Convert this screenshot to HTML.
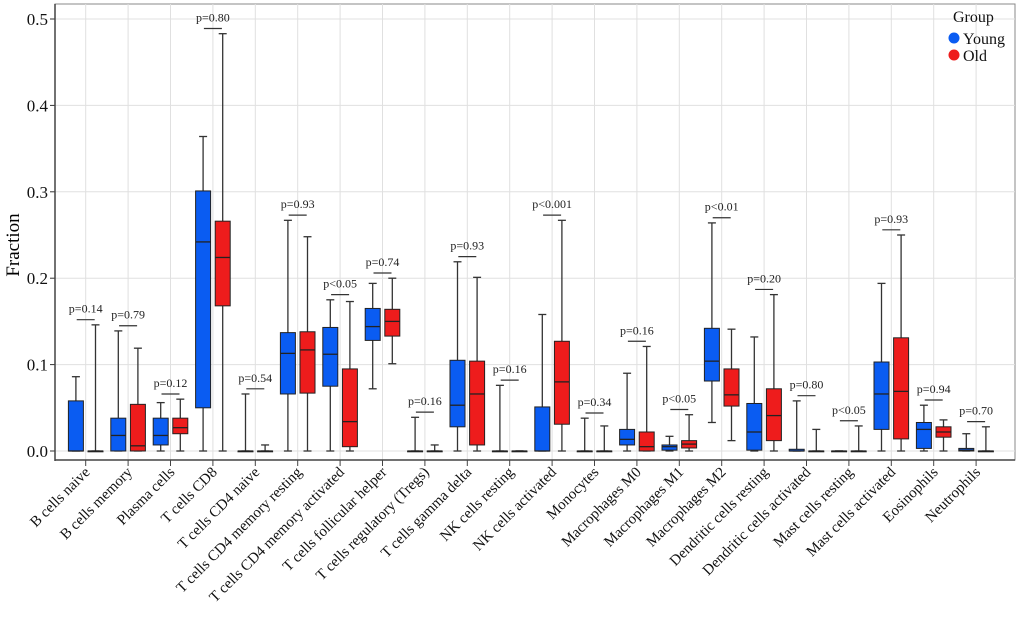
<!DOCTYPE html>
<html><head><meta charset="utf-8"><style>
html,body{margin:0;padding:0;background:#fff;}
svg, svg text{font-family:"Liberation Serif","DejaVu Serif",serif !important;}
</style></head><body>
<svg id="chart" width="1020" height="615" font-family="'Liberation Serif', 'DejaVu Serif', serif"></svg>
<script>
const categories=["B cells naive","B cells memory","Plasma cells","T cells CD8","T cells CD4 naive","T cells CD4 memory resting","T cells CD4 memory activated","T cells follicular helper","T cells regulatory (Tregs)","T cells gamma delta","NK cells resting","NK cells activated","Monocytes","Macrophages M0","Macrophages M1","Macrophages M2","Dendritic cells resting","Dendritic cells activated","Mast cells resting","Mast cells activated","Eosinophils","Neutrophils"];
// [low, q1, median, q3, high]
const young=[[0,0,0,0.058,0.086],[0,0,0.018,0.038,0.139],[0,0.007,0.018,0.038,0.056],[0,0.050,0.242,0.301,0.364],[0,0,0,0,0.066],[0,0.066,0.113,0.137,0.267],[0,0.075,0.112,0.143,0.175],[0.072,0.128,0.144,0.165,0.194],[0,0,0,0,0.039],[0,0.028,0.053,0.105,0.219],[0,0,0,0,0.076],[0,0,0,0.051,0.158],[0,0,0,0,0.038],[0,0.007,0.0135,0.025,0.090],[0,0.001,0.005,0.007,0.017],[0.033,0.081,0.104,0.142,0.264],[0,0.001,0.022,0.055,0.132],[0,0,0,0.002,0.058],[0,0,0,0,0],[0,0.025,0.066,0.103,0.194],[0,0.003,0.025,0.033,0.053],[0,0,0.001,0.003,0.020]];
const old=[[0,0,0,0,0.146],[0,0,0.006,0.054,0.119],[0,0.020,0.027,0.038,0.060],[0,0.168,0.224,0.266,0.483],[0,0,0,0,0.007],[0,0.067,0.117,0.138,0.248],[0,0.005,0.034,0.095,0.173],[0.101,0.133,0.150,0.164,0.200],[0,0,0,0,0.007],[0,0.007,0.066,0.104,0.201],[0,0,0,0,0],[0,0.031,0.080,0.127,0.267],[0,0,0,0,0.029],[0,0,0.005,0.022,0.121],[0,0.0035,0.008,0.012,0.042],[0.012,0.052,0.065,0.095,0.141],[0,0.012,0.041,0.072,0.181],[0,0,0,0,0.025],[0,0,0,0,0.029],[0,0.014,0.069,0.131,0.250],[0,0.016,0.022,0.028,0.036],[0,0,0,0,0.028]];
const pLabels=["p=0.14","p=0.79","p=0.12","p=0.80","p=0.54","p=0.93","p<0.05","p=0.74","p=0.16","p=0.93","p=0.16","p<0.001","p=0.34","p=0.16","p<0.05","p<0.01","p=0.20","p=0.80","p<0.05","p=0.93","p=0.94","p=0.70"];
const yTicks=[0,0.1,0.2,0.3,0.4,0.5];
const yTickLabels=["0.0","0.1","0.2","0.3","0.4","0.5"];

const NS="http://www.w3.org/2000/svg";
const FF="'Liberation Serif', 'DejaVu Serif', serif";
const svg=document.getElementById('chart');
const L=55,R=1015,T=4,B=460;
function y(v){return 451-v*864;}
function x(i){return 85.7+i*42.4;}
function mk(tag,attrs,parent){const e=document.createElementNS(NS,tag);for(const k in attrs)e.setAttribute(k,attrs[k]);if(tag==='text')e.setAttribute('font-family',FF);(parent||svg).appendChild(e);return e;}

let f=mk('rect',{x:L,y:T,width:R-L,height:B-T,fill:'#fff',stroke:'#888','stroke-width':1});


yTicks.forEach((v,k)=>{
  let g=mk('line',{x1:L,x2:R,y1:y(v),y2:y(v),stroke:'#e0e0e0','stroke-width':1});
  
  
  let t=mk('line',{x1:L-5,x2:L,y1:y(v),y2:y(v),stroke:'#333'});
  
  
  let tx=mk('text',{x:L-7,y:y(v)+6,'text-anchor':'end','font-size':17,fill:'#111'});
  tx.textContent=yTickLabels[k];
  
  
});
categories.forEach((c,i)=>{
  let g=mk('line',{x1:x(i),x2:x(i),y1:T,y2:B,stroke:'#e0e0e0','stroke-width':1});
  
  
});
let ax=mk('line',{x1:L,x2:L,y1:T,y2:B+1,stroke:'#444','stroke-width':1.5});


let bx=mk('line',{x1:L,x2:R,y1:B,y2:B,stroke:'#444','stroke-width':1.5});



function drawBox(st,cx,fill,name){
  const g=mk('g',{});
  
  
  const [lo,q1,md,q3,hi]=st;
  mk('line',{x1:cx,x2:cx,y1:y(hi),y2:y(lo),stroke:'#333','stroke-width':1.3},g);
  mk('line',{x1:cx-4,x2:cx+4,y1:y(hi),y2:y(hi),stroke:'#333','stroke-width':1.3},g);
  mk('line',{x1:cx-4,x2:cx+4,y1:y(lo),y2:y(lo),stroke:'#333','stroke-width':1.3},g);
  mk('rect',{x:cx-7.5,y:y(q3),width:15,height:Math.max(y(q1)-y(q3),0.8),fill:fill,stroke:'#222','stroke-width':1},g);
  mk('line',{x1:cx-7.5,x2:cx+7.5,y1:y(md),y2:y(md),stroke:'#222','stroke-width':1.3},g);
}
categories.forEach((c,i)=>{
  const cx=x(i);
  drawBox(young[i],cx-9.8,'#0a5cf2','box-young');
  drawBox(old[i],cx+9.8,'#ee1c1c','box-old');
  const top=Math.max(young[i][4],old[i][4])+0.006;
  let br=mk('line',{x1:cx-9,x2:cx+9,y1:y(top),y2:y(top),stroke:'#333','stroke-width':1.2});
  
  
  let p=mk('text',{x:cx,y:y(top)-7,'text-anchor':'middle','font-size':12,fill:'#222'});
  p.textContent=pLabels[i];
  
  
  let tk=mk('line',{x1:cx,x2:cx,y1:B,y2:B+6,stroke:'#444'});
  
  
  let lb=mk('text',{x:0,y:0,'text-anchor':'end','font-size':15,fill:'#111',transform:`translate(${cx+5},${B+13}) rotate(-45)`});
  lb.textContent=c;
  
  
});
</script>
<script>
(function(){
const NS="http://www.w3.org/2000/svg",svg=document.getElementById('chart');
const FF="'Liberation Serif', 'DejaVu Serif', serif";
let t=document.createElementNS(NS,'text');
t.setAttribute('transform','translate(19,245) rotate(-90)');
t.setAttribute('text-anchor','middle');t.setAttribute('font-size',19);
t.setAttribute('font-family',FF);
t.textContent='Fraction';


svg.appendChild(t);
let g=document.createElementNS(NS,'g');


g.setAttribute('font-family',FF);
svg.appendChild(g);
g.innerHTML='<text x="953" y="22" font-size="16" fill="#111" font-family="Liberation Serif, serif">Group</text>'+
'<g><circle cx="954" cy="38" r="5.5" fill="#0a5cf2"/><text x="963" y="44" font-size="16" fill="#111" font-family="Liberation Serif, serif">Young</text></g>'+
'<g><circle cx="954" cy="55" r="5.5" fill="#ee1c1c"/><text x="963" y="61" font-size="16" fill="#111" font-family="Liberation Serif, serif">Old</text></g>';
})();
</script>
</body></html>
